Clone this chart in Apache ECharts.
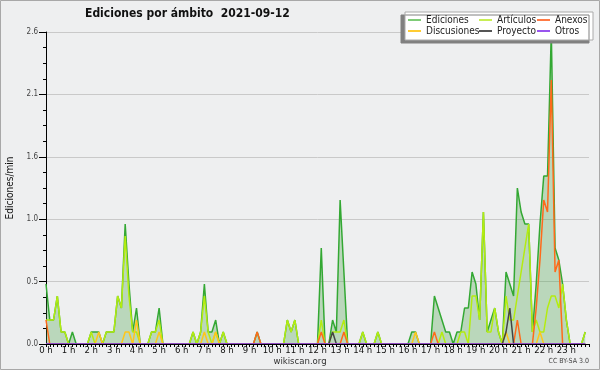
<!DOCTYPE html>
<html>
<head>
<meta charset="utf-8">
<script src="https://cdn.jsdelivr.net/npm/echarts@6/dist/echarts.min.js"></script>
<style>
html,body{margin:0;padding:0;background:#eeeff0;}
#main{width:600px;height:370px;}
</style>
</head>
<body>
<div id="main"></div>
<script>
// ediciones por minuto, un valor cada 10 minutos (6 por hora)
var ediciones = [
  0.5,0.2,0.2,0.4,0.1,0.1,   0,0.1,0,0,0,0,
  0.1,0.1,0.1,0,0.1,0.1,     0.1,0.4,0.3,1.0,0.5,0.1,
  0.3,0,0,0,0.1,0.1,         0.3,0,0,0,0,0,
  0,0,0,0.1,0,0.1,           0.5,0.1,0.1,0.2,0,0.1,
  0,0,0,0,0,0,               0,0,0.1,0,0,0,
  0,0,0,0,0.2,0.1,           0.2,0,0,0,0,0,
  0,0.8,0,0,0.2,0.1,         1.2,0.6,0,0,0,0,
  0.1,0,0,0,0.1,0,           0,0,0,0,0,0,
  0,0.1,0.1,0,0,0,           0,0.4,0.3,0.2,0.1,0.1,
  0,0.1,0.1,0.3,0.3,0.6,     0.5,0.2,1.1,0.1,0.2,0.3,
  0.1,0,0.6,0.5,0.4,1.3,     1.1,1.0,1.0,0.1,0.5,1.0,
  1.4,1.4,2.6,0.8,0.7,0.5,   0.2,0,0,0,0,0.1
];
var articulos = [
  0.2,0.2,0.2,0.4,0.1,0.1,   0,0,0,0,0,0,
  0.1,0,0,0,0.1,0.1,         0.1,0.4,0.3,0.9,0.4,0.1,
  0.1,0,0,0,0.1,0.1,         0.2,0,0,0,0,0,
  0,0,0,0.1,0,0.1,           0.4,0.1,0,0.1,0,0.1,
  0,0,0,0,0,0,               0,0,0,0,0,0,
  0,0,0,0,0.2,0.1,           0.2,0,0,0,0,0,
  0,0.2,0,0,0.1,0.1,         0.1,0.2,0,0,0,0,
  0.1,0,0,0,0.1,0,           0,0,0,0,0,0,
  0,0,0,0,0,0,               0,0,0,0.1,0,0,
  0,0,0.1,0.1,0,0.4,         0.4,0.2,1.1,0.1,0.1,0.3,
  0.1,0,0.4,0.2,0.2,0.4,     0.6,0.8,1.0,0.1,0.2,0.1,
  0.1,0.3,0.4,0.4,0.3,0.5,   0.2,0,0,0,0,0.1
];
var anexos = [
  0.2,0,0,0,0,0,             0,0,0,0,0,0,
  0,0,0,0,0,0,               0,0,0,0,0,0,
  0,0,0,0,0,0,               0,0,0,0,0,0,
  0,0,0,0,0,0,               0,0,0,0,0,0,
  0,0,0,0,0,0,               0,0,0.1,0,0,0,
  0,0,0,0,0,0,               0,0,0,0,0,0,
  0,0.1,0,0,0,0,             0,0.1,0,0,0,0,
  0,0,0,0,0,0,               0,0,0,0,0,0,
  0,0,0,0,0,0,               0,0.1,0,0,0,0,
  0,0,0,0,0,0,               0,0,0,0,0,0,
  0,0,0,0,0,0.2,             0,0,0,0,0.3,0.7,
  1.2,1.1,2.2,0.6,0.7,0,     0,0,0,0,0,0
];
var discusiones = [
  0,0,0,0,0,0,               0,0,0,0,0,0,
  0,0,0.1,0,0,0,             0,0,0,0.1,0.1,0,
  0.2,0,0,0,0,0,             0.1,0,0,0,0,0,
  0,0,0,0,0,0,               0.1,0,0,0.1,0,0,
  0,0,0,0,0,0,               0,0,0,0,0,0,
  0,0,0,0,0,0,               0,0,0,0,0,0,
  0,0,0,0,0,0,               0,0,0,0,0,0,
  0,0,0,0,0,0,               0,0,0,0,0,0,
  0,0,0.1,0,0,0,             0,0,0,0,0,0,
  0,0,0,0,0,0,               0,0,0,0,0,0,
  0,0,0.1,0,0,0,             0,0,0,0,0,0.1,
  0,0,0,0,0,0,               0,0,0,0,0,0
];
var proyecto = [
  0,0,0,0,0,0,               0,0,0,0,0,0,
  0,0,0,0,0,0,               0,0,0,0,0,0,
  0,0,0,0,0,0,               0,0,0,0,0,0,
  0,0,0,0,0,0,               0,0,0,0,0,0,
  0,0,0,0,0,0,               0,0,0,0,0,0,
  0,0,0,0,0,0,               0,0,0,0,0,0,
  0,0,0,0,0.1,0,             0,0,0,0,0,0,
  0,0,0,0,0,0,               0,0,0,0,0,0,
  0,0,0,0,0,0,               0,0,0,0,0,0,
  0,0,0,0,0,0,               0,0,0,0,0,0,
  0,0,0.1,0.3,0,0,           0,0,0,0,0,0,
  0,0,0,0,0,0,               0,0,0,0,0,0
];
var otros = [];
for (var k = 0; k < 144; k++) otros.push(0);

var nombres = ['Ediciones','Artículos','Anexos','Discusiones','Proyecto','Otros'];
var colores = ['#33a833','#b4ec10','#ff6a1a','#ffc61a','#444444','#9944ee'];
var coloresLeyenda = ['#7fcc77','#c8ee55','#ff7a44','#ffcc33','#555555','#9955ee'];

var fuente = "'DejaVu Sans Condensed','DejaVu Sans',sans-serif";

// pares [hora, valor]
function pares(arr) {
  return arr.map(function (v, i) { return [i / 6, v]; });
}

var myChart = echarts.init(document.getElementById('main'));

var series = [
  {
    name: nombres[0], type: 'line', symbol: 'none', data: pares(ediciones),
    itemStyle: {color: colores[0]},
    lineStyle: {color: colores[0], width: 1.5},
    areaStyle: {color: 'rgba(60,160,60,0.42)'},
    z: 2
  }
];
[articulos, anexos, discusiones, proyecto, otros].forEach(function (arr, j) {
  series.push({
    name: nombres[j + 1], type: 'line', symbol: 'none', data: pares(arr),
    itemStyle: {color: colores[j + 1]},
    lineStyle: {color: colores[j + 1], width: 1.5},
    z: 3
  });
});

function leyenda(items, left) {
  return {
    data: items.map(function (n) {
      var c = coloresLeyenda[nombres.indexOf(n)];
      return {name: n, itemStyle: {color: c}};
    }),
    orient: 'vertical', left: left, top: 14.5, padding: 0,
    icon: 'rect', itemWidth: 13, itemHeight: 2, itemGap: 0,
    selectedMode: false,
    textStyle: {fontSize: 10, fontFamily: fuente, color: '#222', lineHeight: 11},
    z: 6
  };
}

myChart.setOption({
  backgroundColor: '#eeeff0',
  animation: false,
  title: {
    text: 'Ediciones por ámbito  2021-09-12',
    left: 85, top: 8, padding: 0,
    textStyle: {fontSize: 12, fontWeight: 'bold', fontFamily: fuente, color: '#111'}
  },
  legend: [
    leyenda(['Ediciones','Discusiones'], 408),
    leyenda(['Artículos','Proyecto'], 479),
    leyenda(['Anexos','Otros'], 537)
  ],
  grid: {left: 46, right: 11, top: 32, bottom: 26, containLabel: false, outerBoundsMode: 'none'},
  xAxis: {
    type: 'value', min: 0, max: 24, interval: 1, z: 10,
    axisLine: {lineStyle: {color: '#000', width: 1}},
    axisTick: {length: 3, lineStyle: {color: '#000'}},
    minorTick: {show: true, splitNumber: 6, length: 3, lineStyle: {color: '#000'}},
    splitLine: {show: false},
    axisLabel: {
      margin: 2, fontSize: 9.5, fontFamily: fuente, color: '#111',
      formatter: function (v) { return v < 24 ? v + ' h' : ''; }
    }
  },
  yAxis: {
    type: 'value', min: 0, max: 2.6, interval: 0.52,
    name: 'Ediciones/min', nameLocation: 'middle', nameGap: 31, nameRotate: 90,
    nameTextStyle: {fontSize: 10, fontFamily: fuente, color: '#111'},
    axisLine: {show: true, lineStyle: {color: '#000', width: 1}},
    axisTick: {show: true, length: 7, lineStyle: {color: '#000'}},
    minorTick: {show: true, splitNumber: 4, length: 3, lineStyle: {color: '#000'}},
    splitLine: {lineStyle: {color: '#c9c9c9', width: 1}},
    axisLabel: {
      margin: 8, fontSize: 8, fontFamily: fuente, color: '#444',
      formatter: function (v) { return v.toFixed(1); }
    }
  },
  graphic: [
    {
      type: 'rect', z: 5,
      shape: {x: 405, y: 12, width: 188, height: 28},
      style: {fill: '#ffffff', stroke: '#aaaaaa', lineWidth: 1,
        shadowColor: '#808080', shadowOffsetX: -4, shadowOffsetY: 3, shadowBlur: 0}
    },
    {
      type: 'rect', z: 0, silent: true,
      shape: {x: 0.5, y: 0.5, width: 599, height: 369},
      style: {fill: 'none', stroke: '#a8a8a8', lineWidth: 1}
    },
    {
      type: 'text', left: 'center', top: 357,
      style: {text: 'wikiscan.org', fontSize: 9.5, fontFamily: fuente, fill: '#333'}
    },
    {
      type: 'text', right: 11, top: 358,
      style: {text: 'CC BY-SA 3.0', fontSize: 7, fontFamily: fuente, fill: '#444'}
    }
  ],
  series: series
});
</script>
</body>
</html>
